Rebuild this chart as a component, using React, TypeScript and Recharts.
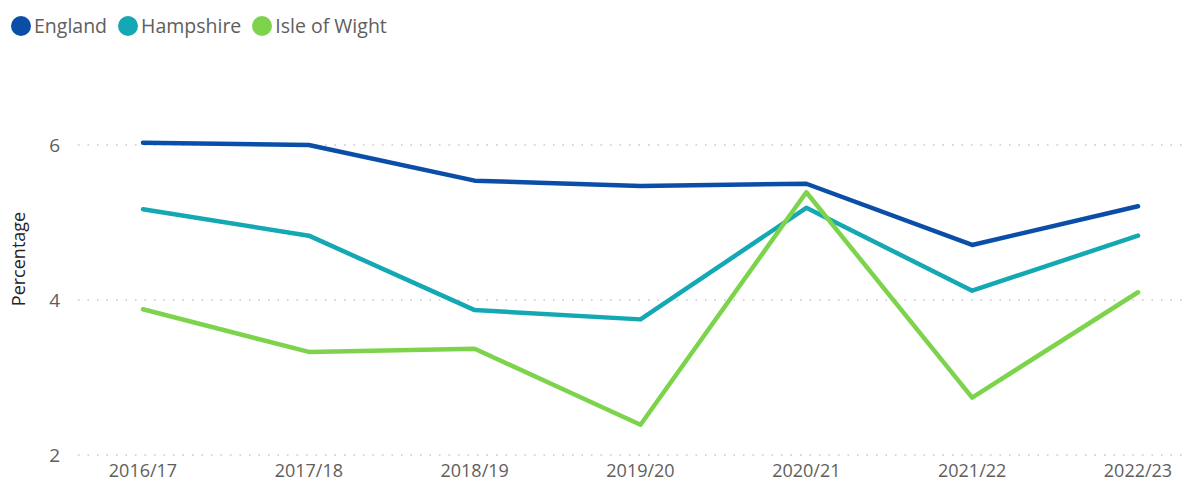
import React from 'react';
import { LineChart, Line, XAxis, YAxis, CartesianGrid } from 'recharts';

const years = ['2016/17', '2017/18', '2018/19', '2019/20', '2020/21', '2021/22', '2022/23'];
const england = [6.03, 6.0, 5.54, 5.47, 5.5, 4.71, 5.21];
const hampshire = [5.17, 4.83, 3.87, 3.75, 5.19, 4.12, 4.83];
const isleOfWight = [3.88, 3.33, 3.37, 2.39, 5.39, 2.74, 4.1];
const yTicks = [2, 4, 6];

const series = [
  { key: 'england', name: 'England', color: '#0B4EA8' },
  { key: 'hampshire', name: 'Hampshire', color: '#14A8B4' },
  { key: 'iow', name: 'Isle of Wight', color: '#7DD44C' },
];

const data = years.map((year, i) => ({
  year,
  england: england[i],
  hampshire: hampshire[i],
  iow: isleOfWight[i],
}));

const font = '"Segoe UI", "Open Sans", "DejaVu Sans", sans-serif';

const YLabel = (props: any) => {
  const { viewBox } = props;
  const cx = viewBox.x + 18;
  const cy = viewBox.y + viewBox.height / 2 - 10;
  return (
    <text
      x={cx}
      y={cy}
      transform={`rotate(-90, ${cx}, ${cy})`}
      textAnchor="middle"
      dominantBaseline="central"
      fill="#252423"
      fontSize={18}
      fontFamily={font}
    >
      Percentage
    </text>
  );
};

export default function App() {
  return (
    <div style={{ position: 'absolute', left: 0, top: 0, width: 1189, height: 484, background: '#fff' }}>
      <div
        style={{
          position: 'absolute',
          top: 12,
          left: 11,
          display: 'flex',
          alignItems: 'center',
          fontFamily: font,
          fontSize: 19.5,
          color: '#605E5C',
          whiteSpace: 'nowrap',
        }}
      >
        {series.map((s) => (
          <div key={s.key} style={{ display: 'flex', alignItems: 'center', marginRight: 11 }}>
            <span
              style={{ width: 20, height: 20, borderRadius: '50%', background: s.color, display: 'inline-block', marginRight: 3 }}
            />
            <span>{s.name}</span>
          </div>
        ))}
      </div>
      <LineChart width={1189} height={484} data={data} margin={{ top: 83, right: 0, bottom: 0, left: 0 }}>
        <CartesianGrid
          vertical={false}
          horizontalValues={yTicks}
          stroke="#C8C6C4"
          strokeDasharray="1.5 8"
          strokeWidth={1.5}
        />
        <XAxis
          dataKey="year"
          axisLine={false}
          tickLine={false}
          tickSize={0}
          tickMargin={9}
          height={29}
          padding={{ left: 65, right: 51 }}
          tick={{ fill: '#605E5C', fontSize: 18, fontFamily: font }}
          interval={0}
        />
        <YAxis
          domain={[2, 6.8]}
          ticks={yTicks}
          axisLine={false}
          tickLine={false}
          tickSize={0}
          tickMargin={18}
          width={78}
          tick={{ fill: '#605E5C', fontSize: 19, fontFamily: font }}
          label={<YLabel />}
        />
        {series.map((s) => (
          <Line
            key={s.key}
            type="linear"
            dataKey={s.key}
            name={s.name}
            stroke={s.color}
            strokeWidth={4.5}
            strokeLinecap="round"
            strokeLinejoin="round"
            dot={false}
            activeDot={false}
            isAnimationActive={false}
          />
        ))}
      </LineChart>
    </div>
  );
}
